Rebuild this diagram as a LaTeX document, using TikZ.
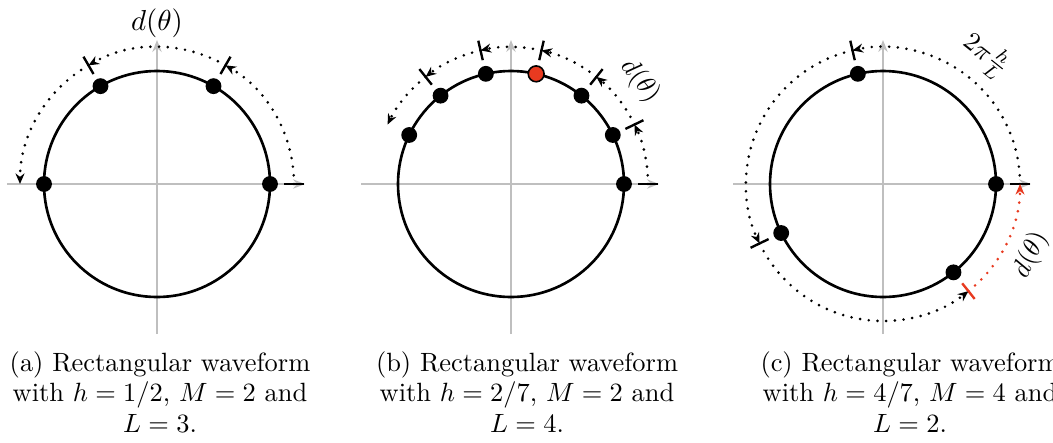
\documentclass[tikz,border=0pt]{standalone}
\usepackage{amsmath,amssymb}
\usepackage{xcolor}
\usepackage{tikz}
\usetikzlibrary{positioning,arrows.meta}

\definecolor{markred}{RGB}{232,58,32}

\begin{document}
\begin{tikzpicture}[
		x=0.3787pt, y=0.3787pt,
		axis/.style={draw=black!25, line width=1pt, -{Stealth[length=4.5pt,width=3.5pt]}},
		ring/.style={draw, line width=1pt},
		pulse/.style={circle, fill=black, inner sep=0pt, minimum size=6pt},
		redpulse/.style={pulse, fill=markred, draw=black, line width=0.6pt},
		tick/.style={draw, line width=0.9pt},
		span/.style={line width=1.1pt, dash pattern=on 0pt off 3.3pt, line cap=round,
			-{Stealth[length=4pt,width=3.4pt]}},
		caption/.style={align=center, font=\fontsize{10}{11.4}\selectfont}
	]
		\useasboundingbox (0,0) rectangle (1053,442);

		% (a) h=1/2, M=2, L=3
		\begin{scope}[shift={(157,258)}]
			\draw[axis] (-150,0) -- (148,0);
			\draw[axis] (0,-150) -- (0,144);
			\draw[ring] (0,0) circle[radius=113];
			\node[pulse] (a0) at (0:113) {};
			\node[pulse] (a1) at (60:113) {};
			\node[pulse] (a2) at (120:113) {};
			\node[pulse] (a3) at (180:113) {};
			\draw[tick] (0:127) -- (0:147);
			\draw[tick] (60:127) -- (60:147);
			\draw[tick] (120:127) -- (120:147);
			\draw[span] (0:137) arc[start angle=0, end angle=60, radius=137];
			\draw[span] (60:137) arc[start angle=60, end angle=120, radius=137];
			\draw[span] (120:137) arc[start angle=120, end angle=180, radius=137];
			\node[font=\fontsize{11}{13}\selectfont] (adist) at (90:161) {$d(\theta)$};
		\end{scope}

		% (b) h=2/7, M=2, L=4
		\begin{scope}[shift={(511,258)}]
			\draw[axis] (-150,0) -- (148,0);
			\draw[axis] (0,-150) -- (0,144);
			\draw[ring] (0,0) circle[radius=113];
			\foreach \k in {0,1,2,4,5,6}
				\node[pulse] (b\k) at (\k*360/14:113) {};
			\node[redpulse] (b3) at (3*360/14:113) {};
			\foreach \k in {0,...,5} {
				\draw[tick] (\k*360/14:127) -- (\k*360/14:147);
				\draw[span] (\k*360/14:137) arc[start angle=\k*360/14, end angle=(\k+1)*360/14, radius=137];
			}
			\node[rotate=-51.43] (bdist) at (38.57:165) {$d(\theta)$};
		\end{scope}

		% (c) h=4/7, M=4, L=2
		\begin{scope}[shift={(883,258)}]
			\draw[axis] (-150,0) -- (148,0);
			\draw[axis] (0,-150) -- (0,144);
			\draw[ring] (0,0) circle[radius=113];
			\node[pulse] (c0) at (0:113) {};
			\node[pulse] (c1) at (102.86:113) {};
			\node[pulse] (c2) at (205.71:113) {};
			\node[pulse] (c3) at (308.57:113) {};
			\draw[tick] (0:127) -- (0:147);
			\draw[tick] (102.86:127) -- (102.86:147);
			\draw[tick] (205.71:127) -- (205.71:147);
			\draw[tick, draw=markred] (308.57:127) -- (308.57:147);
			\draw[span] (0:137) arc[start angle=0, end angle=102.86, radius=137];
			\draw[span] (102.86:137) arc[start angle=102.86, end angle=205.71, radius=137];
			\draw[span] (205.71:137) arc[start angle=205.71, end angle=308.57, radius=137];
			\draw[span, draw=markred] (308.57:137) arc[start angle=308.57, end angle=360, radius=137];
			\node[rotate=-38.57] (cfrac) at (51.43:165) {$2\pi\frac{h}{L}$};
			\node[rotate=64.29] (cdist) at (334.29:164) {$d(\theta)$};
		\end{scope}

		\node[caption] (capa) at (160,50) {(a) Rectangular waveform\\with $h=1/2$, $M=2$ and\\$L=3$.};
		\node[caption] (capb) at (527,50) {(b) Rectangular waveform\\with $h=2/7$, $M=2$ and\\$L=4$.};
		\node[caption] (capc) at (910,50) {(c) Rectangular waveform\\with $h=4/7$, $M=4$ and\\$L=2$.};
	\end{tikzpicture}
\end{document}
